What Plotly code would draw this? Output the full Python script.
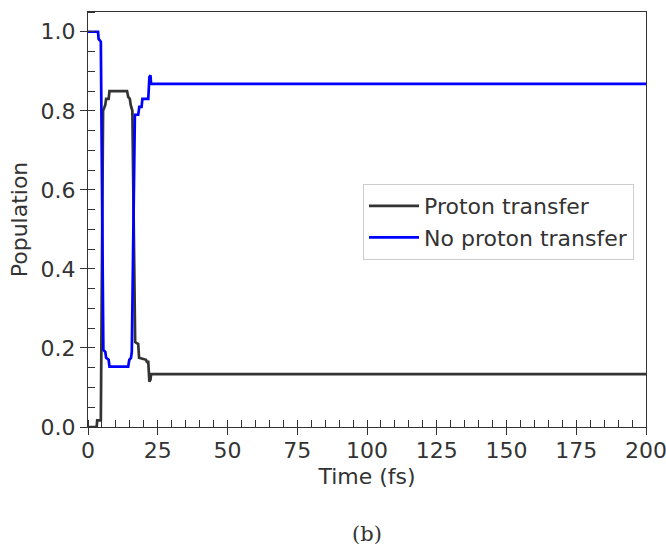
import plotly.graph_objects as go

# Proton transfer population (black)
t_pt = [0, 3.1, 3.3, 4.6, 5.4, 6.2, 6.5, 7.4, 7.7, 14.0, 14.4, 15.0, 15.3, 15.9,
        16.9, 18.0, 18.3, 20.8, 21.1, 21.6, 22.0, 22.4, 22.6, 200]
p_pt = [0.0, 0.0, 0.017, 0.017, 0.80, 0.815, 0.83, 0.83, 0.85, 0.85, 0.835, 0.83, 0.815, 0.80,
        0.215, 0.21, 0.175, 0.17, 0.165, 0.165, 0.115, 0.12, 0.134, 0.134]

# No proton transfer population (blue)
t_npt = [0, 3.6, 3.8, 4.6, 5.5, 6.2, 6.5, 7.4, 7.7, 14.4, 14.8, 15.4, 15.7,
         16.8, 18.0, 18.4, 19.2, 19.5, 21.6, 22.0, 22.4, 22.6, 200]
p_npt = [1.0, 1.0, 0.982, 0.975, 0.195, 0.19, 0.175, 0.17, 0.153, 0.153, 0.17, 0.175, 0.19,
         0.79, 0.79, 0.81, 0.81, 0.83, 0.83, 0.885, 0.89, 0.868, 0.868]

x_ticks = [0, 25, 50, 75, 100, 125, 150, 175, 200]
y_ticks = [0.0, 0.2, 0.4, 0.6, 0.8, 1.0]

FONT = "DejaVu Sans"
INK = "#333333"
FS = 22

fig = go.Figure()
fig.add_trace(go.Scatter(x=t_pt, y=p_pt, mode="lines", name="Proton transfer",
                         line=dict(color="#333333", width=2.7)))
fig.add_trace(go.Scatter(x=t_npt, y=p_npt, mode="lines", name="No proton transfer",
                         line=dict(color="#0000ff", width=2.7)))
# invisible trace on overlay axes (for inside halves of major ticks)
fig.add_trace(go.Scatter(x=[0], y=[0], xaxis="x2", yaxis="y2", mode="markers",
                         marker=dict(opacity=0), showlegend=False, hoverinfo="skip"))

fig.update_layout(
    width=666, height=548,
    margin=dict(l=88, r=20, t=12, b=121, autoexpand=False),
    plot_bgcolor="white", paper_bgcolor="white",
    font=dict(family=FONT, size=FS, color=INK),
    xaxis=dict(range=[0, 200], tickvals=x_ticks, ticks="outside", ticklen=7, tickwidth=1.3,
               tickcolor=INK, showline=True, linecolor=INK, linewidth=1.3, mirror=True,
               showgrid=False, zeroline=False, automargin=False, showticklabels=False,
               minor=dict(dtick=5, ticks="inside", ticklen=7, tickwidth=1.3, tickcolor=INK)),
    yaxis=dict(range=[0, 1.05], tickvals=y_ticks, tickformat=".1f", ticks="outside",
               ticklen=7, tickwidth=1.3, tickcolor=INK, showline=True, linecolor=INK,
               linewidth=1.3, mirror=True, showgrid=False, zeroline=False, automargin=False,
               ticklabeloverflow="allow",
               minor=dict(dtick=0.05, ticks="inside", ticklen=7, tickwidth=1.3, tickcolor=INK),
               title=dict(text="Population", font=dict(size=FS), standoff=6),
               tickfont=dict(size=FS)),
    xaxis2=dict(overlaying="x", anchor="y", side="bottom", range=[0, 200], tickvals=x_ticks,
                ticks="inside", ticklen=7, tickwidth=1.3, tickcolor=INK, showticklabels=True,
                ticklabelstandoff=8,
                ticklabeloverflow="allow", automargin=False, tickfont=dict(size=FS),
                title=dict(text="Time (fs)", font=dict(size=FS), standoff=6),
                showline=False, showgrid=False, zeroline=False),
    yaxis2=dict(overlaying="y", anchor="x", side="left", range=[0, 1.05], tickvals=y_ticks,
                ticks="inside", ticklen=7, tickwidth=1.3, tickcolor=INK, showticklabels=False,
                showline=False, showgrid=False, zeroline=False),
    legend=dict(x=0.9785, y=0.5855, xanchor="right", yanchor="top",
                bordercolor="#cccccc", borderwidth=1, bgcolor="white",
                font=dict(size=FS, color=INK), tracegroupgap=0, itemwidth=50),
    annotations=[dict(text="(b)", x=0.5, y=-0.257, xref="paper", yref="paper",
                      xanchor="center", yanchor="middle", showarrow=False,
                      font=dict(family="DejaVu Serif", size=21, color=INK))],
)

fig.write_html("out.html")
